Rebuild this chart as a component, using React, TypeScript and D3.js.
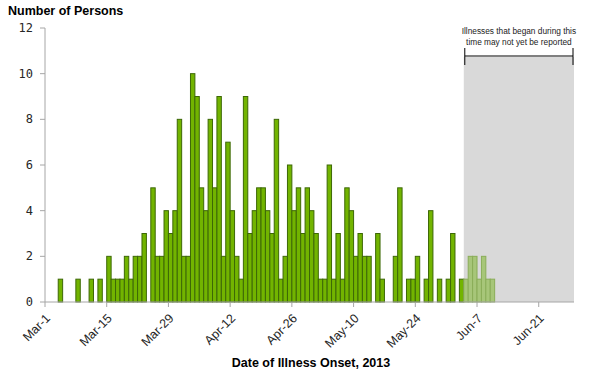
import React from "react";
import * as d3 from "d3";

// Daily case counts by illness onset date, starting 2013-03-01
const firstOnsetDate = "2013-03-01";
const caseCounts = [
  0, 0, 0, 1, 0, 0, 0, 1, 0, 0, 1, 0, 1, 0,
  2, 1, 1, 1, 2, 1, 2, 2, 3, 0,
  5, 2, 2, 4, 3, 4, 8, 2, 2, 10, 9, 5, 4, 8, 5, 9, 2, 7, 4, 2, 1, 9, 3, 4, 5, 5, 4, 3, 8, 1,
  2, 6, 4, 5, 3, 5, 4, 3, 1, 1, 6, 1, 3, 1, 5, 4, 2, 3, 2, 2, 0, 3, 1, 0, 0, 2, 5, 0, 1, 1, 2, 0, 1, 4, 0, 1, 0, 1, 3, 0, 1,
  1, 2, 2, 1, 2, 1, 1,
];
// Onset dates from this day onward may not yet be reported
const reportingLagStart = "2013-06-04";
const axisEndDate = "2013-06-29";
const xTickLabels = ["Mar-1", "Mar-15", "Mar-29", "Apr-12", "Apr-26", "May-10", "May-24", "Jun-7", "Jun-21"];
const yTickValues = [0, 2, 4, 6, 8, 10, 12];
const yAxisTitle = "Number of Persons";
const xAxisTitle = "Date of Illness Onset, 2013";
const noteLines = ["Illnesses that began during this", "time may not yet be reported"];

const W = 600;
const H = 377;
const left = 45;
const right = 574;
const top = 28;
const bottom = 302;

const parseIso = d3.utcParse("%Y-%m-%d");
const parseTick = d3.utcParse("%Y-%b-%d");

export default function App() {
  const start = parseIso(firstOnsetDate)!;
  const end = parseIso(axisEndDate)!;
  const lag = parseIso(reportingLagStart)!;
  const days = d3.utcDay.range(start, d3.utcDay.offset(start, caseCounts.length));
  const data = days.map((d, i) => ({ date: d, value: caseCounts[i] }));

  const x = d3.scaleUtc().domain([start, end]).range([left, right]);
  const y = d3.scaleLinear().domain([0, 12]).range([bottom, top]);

  const ticks = xTickLabels.map((t) => ({ label: t, date: parseTick("2013-" + t)! }));
  const font = "'Liberation Sans', Arial, sans-serif";

  const gx0 = x(lag);
  const gx1 = x(end);
  const gTop = 57;

  return (
    <svg width={W} height={H} style={{ position: "absolute", left: 0, top: 0, background: "#fff" }}>
      <rect x={gx0} y={gTop} width={gx1 - gx0} height={bottom - gTop} fill="#d9d9d9" />
      {/* bracket */}
      <g stroke="#000" strokeWidth={1}>
        <line x1={gx0 + 1} x2={gx1 - 1} y1={56} y2={56} />
        <line x1={gx0 + 1} x2={gx0 + 1} y1={48} y2={65} />
        <line x1={gx1 - 1} x2={gx1 - 1} y1={48} y2={65} />
      </g>
      {noteLines.map((l, i) => (
        <text key={i} x={(gx0 + gx1) / 2} y={34 + i * 10.5} textAnchor="middle" fontFamily={font} fontSize={8.3} fill="#222">
          {l}
        </text>
      ))}
      {data.map((d, i) => {
        if (!d.value) return null;
        const faded = d.date >= lag;
        const x0 = x(d.date);
        const x1 = x(d3.utcDay.offset(d.date, 1));
        return (
          <rect
            key={i}
            x={x0}
            y={y(d.value)}
            width={x1 - x0}
            height={bottom - y(d.value)}
            fill={faded ? "#a7c679" : "#72b400"}
            stroke={faded ? "#8aad58" : "#3d6806"}
            strokeWidth={1}
          />
        );
      })}
      {/* y axis */}
      <line x1={left} x2={left} y1={top} y2={bottom} stroke="#a6a6a6" />
      {yTickValues.map((v) => (
        <g key={v}>
          <line x1={left - 5} x2={left} y1={y(v)} y2={y(v)} stroke="#a6a6a6" />
          <text x={33} y={y(v) + 4} textAnchor="end" fontFamily="'DejaVu Sans Mono', monospace" fontSize={12} fill="#262626">
            {v}
          </text>
        </g>
      ))}
      {/* x axis */}
      <line x1={left} x2={right} y1={bottom} y2={bottom} stroke="#a6a6a6" />
      {ticks.map((t) => {
        const tx = x(t.date);
        return (
          <g key={t.label}>
            <line x1={tx} x2={tx} y1={bottom} y2={bottom + 5} stroke="#a6a6a6" />
            <text
              transform={`translate(${tx + 6},${bottom + 17}) rotate(-45)`}
              textAnchor="end"
              fontFamily={font}
              fontSize={12.5}
              fill="#262626"
            >
              {t.label}
            </text>
          </g>
        );
      })}
      <text x={8} y={15} fontFamily={font} fontSize={12.5} fontWeight="bold" fill="#000">
        {yAxisTitle}
      </text>
      <text x={311} y={367} textAnchor="middle" fontFamily={font} fontSize={12.5} fontWeight="bold" fill="#000">
        {xAxisTitle}
      </text>
    </svg>
  );
}
